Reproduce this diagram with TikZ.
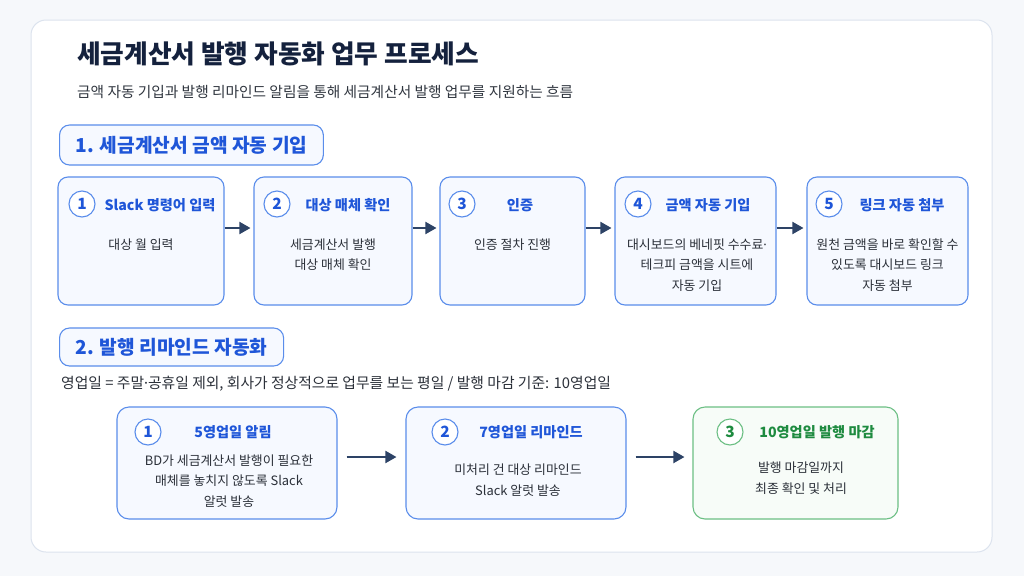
\documentclass[tikz,border=0pt]{standalone}
\usepackage{fontspec}
\setmainfont{Noto Sans CJK KR}
\newfontfamily\dotfont{Noto Sans}
\newcommand{\mdot}{{\dotfont ·}}
\usetikzlibrary{arrows.meta}
\definecolor{pagebg}{HTML}{F6F8FB}
\definecolor{cardline}{HTML}{DCE3EE}
\definecolor{navy}{HTML}{14213D}
\definecolor{subc}{HTML}{30363F}
\definecolor{accblue}{HTML}{1F56D8}
\definecolor{blueline}{HTML}{5A8DEB}
\definecolor{bluefill}{HTML}{F6F9FF}
\definecolor{arrowc}{HTML}{2D4366}
\definecolor{accgreen}{HTML}{1E8B40}
\definecolor{greenline}{HTML}{6CBF84}
\definecolor{greenfill}{HTML}{F7FCF8}
\definecolor{bodyc}{HTML}{2B3039}
\tikzset{
  stepbox/.style={draw=blueline, fill=bluefill, line width=1.1pt, rounded corners=10pt, inner sep=0pt, minimum height=128pt},
  remindbox/.style={draw=blueline, fill=bluefill, line width=1.1pt, rounded corners=12pt, inner sep=0pt, minimum height=112pt, minimum width=220pt},
  donebox/.style={draw=greenline, fill=greenfill, line width=1.1pt, rounded corners=12pt, inner sep=0pt, minimum height=112pt, minimum width=205pt},
  sechead/.style={draw=blueline, fill=bluefill, line width=1.1pt, rounded corners=10pt, inner xsep=16pt, inner ysep=0pt, minimum height=40pt, anchor=west, text=accblue, font=\fontsize{19.2}{23}\selectfont\bfseries},
  numcirc/.style={circle, draw=blueline, fill=white, line width=1.1pt, minimum size=26pt, inner sep=0pt, text=accblue, font=\fontsize{15.5}{18}\selectfont\bfseries},
  gnumcirc/.style={numcirc, draw=greenline, text=accgreen},
  steptitle/.style={text=accblue, font=\fontsize{14.2}{17}\selectfont\bfseries, inner sep=0pt},
  gsteptitle/.style={steptitle, text=accgreen},
  bodytxt/.style={text=bodyc, font=\fontsize{12.9}{20.5}\selectfont, align=center, inner sep=0pt},
  flow/.style={draw=arrowc, line width=1.9pt, -{Triangle[length=11pt,width=12pt]}}
}
\begin{document}
\begin{tikzpicture}[x=1pt,y=-1pt]
\fill[pagebg] (0,0) rectangle (1024,576);
\useasboundingbox (0,0) rectangle (1024,576);
\draw[cardline, fill=white, line width=1pt, rounded corners=15pt] (31,20) rectangle (992,552);

\node[anchor=west, inner sep=0pt, text=navy, font=\fontsize{25.7}{30}\selectfont\bfseries] (title) at (77,54) {세금계산서 발행 자동화 업무 프로세스};
\node[anchor=west, inner sep=0pt, text=subc, font=\fontsize{14.7}{17}\selectfont] (subtitle) at (77,92) {금액 자동 기입과 발행 리마인드 알림을 통해 세금계산서 발행 업무를 지원하는 흐름};

\node[sechead] (sec1) at (59,145) {1. 세금계산서 금액 자동 기입};

% row 1 boxes
\node[stepbox, minimum width=166pt] (b1) at (141,241) {};
\node[stepbox, minimum width=158pt] (b2) at (333,241) {};
\node[stepbox, minimum width=145pt] (b3) at (512.5,241) {};
\node[stepbox, minimum width=161pt] (b4) at (695.5,241) {};
\node[stepbox, minimum width=161pt] (b5) at (887.5,241) {};

\node[numcirc] (c1) at (82,204) {1};
\node[numcirc] (c2) at (277,204) {2};
\node[numcirc] (c3) at (462,204) {3};
\node[numcirc] (c4) at (638,204) {4};
\node[numcirc] (c5) at (829,204) {5};

\node[steptitle] (t1) at (160,205) {Slack 명령어 입력};
\node[steptitle] (t2) at (348,205) {대상 매체 확인};
\node[steptitle] (t3) at (520,205) {인증};
\node[steptitle] (t4) at (708,205) {금액 자동 기입};
\node[steptitle] (t5) at (902,205) {링크 자동 첨부};

\node[bodytxt, anchor=north] (d1) at (141,238.5) {대상 월 입력};
\node[bodytxt, anchor=north] (d2) at (333,238.5) {세금계산서 발행\\대상 매체 확인};
\node[bodytxt, anchor=north] (d3) at (512.5,238.5) {인증 절차 진행};
\node[bodytxt, anchor=north] (d4) at (697,238.5) {대시보드의 베네핏 수수료\mdot\\테크피 금액을 시트에\\자동 기입};
\node[bodytxt, anchor=north] (d5) at (887.5,238.5) {원천 금액을 바로 확인할 수\\있도록 대시보드 링크\\자동 첨부};

\draw[flow, shorten >=3pt] ([yshift=13pt]b1.east) -- ([yshift=13pt]b2.west);
\draw[flow, shorten >=3pt] ([yshift=13pt]b2.east) -- ([yshift=13pt]b3.west);
\draw[flow, shorten >=3pt] ([yshift=13pt]b3.east) -- ([yshift=13pt]b4.west);
\draw[flow, shorten >=3pt] ([yshift=13pt]b4.east) -- ([yshift=13pt]b5.west);

% section 2
\node[sechead, minimum height=38pt] (sec2) at (59,347) {2. 발행 리마인드 자동화};
\node[anchor=west, inner sep=0pt, text=bodyc, font=\fontsize{14.8}{17}\selectfont] (note) at (61,384) {영업일 = 주말\mdot 공휴일 제외, 회사가 정상적으로 업무를 보는 평일 / 발행 마감 기준:\hspace{0.3em}10영업일};

\node[remindbox] (r1) at (227,463) {};
\node[remindbox] (r2) at (516,463) {};
\node[donebox] (r3) at (795.5,463) {};

\node[numcirc] (rc1) at (148,432) {1};
\node[numcirc] (rc2) at (445,432) {2};
\node[gnumcirc] (rc3) at (730,432) {3};

\node[steptitle] (rt1) at (233,432) {5영업일 알림};
\node[steptitle] (rt2) at (531,432) {7영업일 리마인드};
\node[gsteptitle] (rt3) at (817,432) {10영업일 발행 마감};

\node[bodytxt] (rd1) at (229,481) {BD가 세금계산서 발행이 필요한\\매체를 놓치지 않도록 Slack\\알럿 발송};
\node[bodytxt] (rd2) at (518,480) {미처리 건 대상 리마인드\\Slack 알럿 발송};
\node[bodytxt] (rd3) at (801,478) {발행 마감일까지\\최종 확인 및 처리};

\draw[flow, shorten <=9pt, shorten >=9pt] ([yshift=6pt]r1.east) -- ([yshift=6pt]r2.west);
\draw[flow, shorten <=9pt, shorten >=8pt] ([yshift=6pt]r2.east) -- ([yshift=6pt]r3.west);
\end{tikzpicture}
\end{document}
